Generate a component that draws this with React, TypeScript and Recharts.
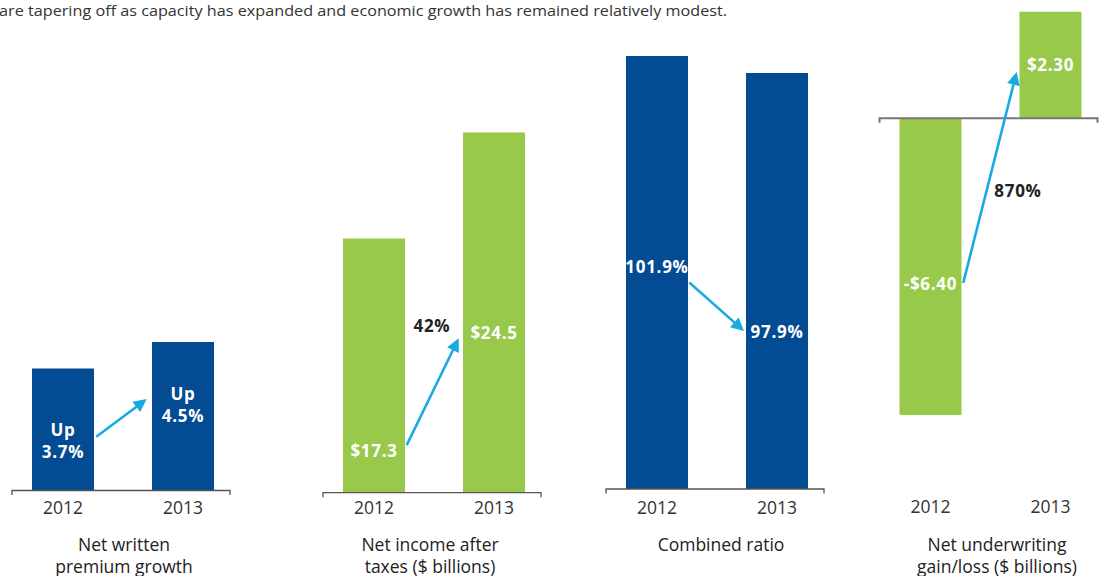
import React from 'react';
import { BarChart, Bar, XAxis, YAxis, ReferenceLine, ReferenceDot } from 'recharts';

// ---------- data ----------
const YEARS = ['2012', '2013'];
const PREMIUM_GROWTH = [3.7, 4.5]; // % up
const NET_INCOME = [17.3, 24.5]; // $ billions
const COMBINED_RATIO = [101.9, 97.9]; // %
const UNDERWRITING = [-6.4, 2.3]; // $ billions
const NET_INCOME_CHANGE = '42%';
const UNDERWRITING_CHANGE = '870%';

const TITLES = [
  ['Net written', 'premium growth'],
  ['Net income after', 'taxes ($ billions)'],
  ['Combined ratio'],
  ['Net underwriting', 'gain/loss ($ billions)'],
];
const INTRO = 'are tapering off as capacity has expanded and economic growth has remained relatively modest.';

// ---------- styles ----------
const BLUE = '#034B93';
const GREEN = '#98C94B';
const ARROW = '#1AAAE2';
const DARK = '#222222';
const FONT = '"Open Sans", "Noto Sans", sans-serif';
const X_DOMAIN: [number, number] = [-0.425, 1.3917];
const W = 1101;
const H = 576;

type Note = { x: number; y: number; lines: string[]; color: string };
type PanelCfg = {
  values: number[];
  color: string;
  domain: [number, number];
  margin: { top: number; right: number; bottom: number; left: number };
  yearShift: number;
  notes: Note[];
  arrow: [{ x: number; y: number }, { x: number; y: number }];
  axisColor: string;
  axisWidth: number;
};

const money1 = (v: number) => `$${v.toFixed(1)}`;
const money2 = (v: number) => (v < 0 ? `-$${Math.abs(v).toFixed(2)}` : `$${v.toFixed(2)}`);
const pct1 = (v: number) => `${v.toFixed(1)}%`;

const PANELS: PanelCfg[] = [
  {
    values: PREMIUM_GROWTH,
    color: BLUE,
    domain: [0, 5],
    margin: { top: 325.5, right: W - 230, bottom: H - 490.5 - 30, left: 12 },
    yearShift: 23,
    notes: [
      { x: 0, y: 1.65, lines: ['Up', pct1(PREMIUM_GROWTH[0])], color: '#fff' },
      { x: 1, y: 2.74, lines: ['Up', pct1(PREMIUM_GROWTH[1])], color: '#fff' },
    ],
    arrow: [{ x: 0.2775, y: 1.63 }, { x: 0.6975, y: 2.77 }],
    axisColor: '#555',
    axisWidth: 1.3,
  },
  {
    values: NET_INCOME,
    color: GREEN,
    domain: [0, 25],
    margin: { top: 125.2, right: W - 541, bottom: H - 492.7 - 30, left: 323 },
    yearShift: 21,
    notes: [
      { x: 0, y: 2.43, lines: [money1(NET_INCOME[0])], color: '#fff' },
      { x: 1, y: 10.46, lines: [money1(NET_INCOME[1])], color: '#fff' },
      { x: 0.483, y: 10.93, lines: [NET_INCOME_CHANGE], color: DARK },
    ],
    arrow: [{ x: 0.2725, y: 3.24 }, { x: 0.7058, y: 10.5 }],
    axisColor: '#555',
    axisWidth: 1.3,
  },
  {
    values: COMBINED_RATIO,
    color: BLUE,
    domain: [0, 105],
    margin: { top: 42.75, right: W - 824, bottom: H - 489 - 30, left: 606 },
    yearShift: 24.5,
    notes: [
      { x: 0, y: 50.8, lines: [pct1(COMBINED_RATIO[0])], color: '#fff' },
      { x: 1, y: 35.6, lines: [pct1(COMBINED_RATIO[1])], color: '#fff' },
    ],
    arrow: [{ x: 0.269, y: 48.6 }, { x: 0.725, y: 37.2 }],
    axisColor: '#555',
    axisWidth: 1.3,
  },
  {
    values: UNDERWRITING,
    color: GREEN,
    domain: [-8, 2.5],
    margin: { top: 2.4, right: W - 1097.5, bottom: H - 489.1 - 30, left: 879.5 },
    yearShift: 24,
    notes: [
      { x: 0, y: -3.7, lines: [money2(UNDERWRITING[0])], color: '#fff' },
      { x: 1, y: 1.02, lines: [money2(UNDERWRITING[1])], color: '#fff' },
      { x: 0.729, y: -1.7, lines: [UNDERWRITING_CHANGE], color: DARK },
    ],
    arrow: [{ x: 0.273, y: -3.55 }, { x: 0.718, y: 1.0 }],
    axisColor: '#777',
    axisWidth: 2,
  },
];

const TITLE_X = [124, 430, 721, 997];

// ---------- shapes ----------
const ArrowShape = (props: any) => {
  const { x1, y1, x2, y2 } = props;
  const dx = x2 - x1;
  const dy = y2 - y1;
  const len = Math.hypot(dx, dy) || 1;
  const ux = dx / len;
  const uy = dy / len;
  const hl = 13;
  const hw = 6.5;
  const bx = x2 - ux * hl;
  const by = y2 - uy * hl;
  const px = -uy;
  const py = ux;
  return (
    <g>
      <line x1={x1} y1={y1} x2={bx + ux * 2} y2={by + uy * 2} stroke={ARROW} strokeWidth={2.6} />
      <polygon
        points={`${x2},${y2} ${bx + px * hw},${by + py * hw} ${bx - px * hw},${by - py * hw}`}
        fill={ARROW}
      />
    </g>
  );
};

const makeBracket = (color: string, width: number) => (props: any) => {
  const { x1, y1, x2 } = props;
  return (
    <path
      d={`M${x1},${y1 + 4.5} V${y1} H${x2} V${y1 + 4.5}`}
      fill="none"
      stroke={color}
      strokeWidth={width}
    />
  );
};

const makeNote = (note: Note) => (props: any) => {
  const { cx, cy } = props;
  return (
    <text
      x={cx}
      y={cy}
      textAnchor="middle"
      fill={note.color}
      fontFamily={FONT}
      fontWeight={700}
      fontSize={17}
      letterSpacing={0.7}
    >
      {note.lines.map((l, i) => (
        <tspan key={i} x={cx} dy={i === 0 ? 0 : 22}>
          {l}
        </tspan>
      ))}
    </text>
  );
};

function Panel({ p }: { p: PanelCfg }) {
  const data = p.values.map((v, i) => ({ x: i, year: YEARS[i], value: v }));
  return (
    <div style={{ position: 'absolute', left: 0, top: 0, width: W, height: H }}>
      <BarChart width={W} height={H} data={data} margin={p.margin}>
        <XAxis
          type="number"
          dataKey="x"
          domain={X_DOMAIN}
          ticks={[0, 1]}
          allowDataOverflow
          interval={0}
          axisLine={false}
          tickLine={false}
          tickSize={0}
          tickMargin={0}
          height={30}
          tick={(tp: any) => (
            <text
              x={tp.x}
              y={tp.y + p.yearShift}
              textAnchor="middle"
              fill="#333"
              fontFamily={FONT}
              fontSize={17.5}
            >
              {YEARS[tp.payload.value]}
            </text>
          )}
        />
        <YAxis hide domain={p.domain} allowDataOverflow />
        <Bar dataKey="value" fill={p.color} barSize={62} isAnimationActive={false} />
        <ReferenceLine y={0} ifOverflow="visible" shape={makeBracket(p.axisColor, p.axisWidth)} />
        <ReferenceLine segment={p.arrow} ifOverflow="visible" shape={ArrowShape} />
        {p.notes.map((n, i) => (
          <ReferenceDot key={i} x={n.x} y={n.y} r={0} ifOverflow="visible" shape={makeNote(n)} />
        ))}
      </BarChart>
    </div>
  );
}

export default function App() {
  return (
    <div style={{ position: 'absolute', left: 0, top: 0, width: W, height: H, background: '#fff', overflow: 'hidden' }}>
      {PANELS.map((p, i) => (
        <Panel key={i} p={p} />
      ))}
      <svg width={W} height={H} style={{ position: 'absolute', left: 0, top: 0, pointerEvents: 'none' }}>
        <text x={-1} y={15.5} fontFamily={FONT} fontSize={14} fill="#333" textLength={728} lengthAdjust="spacingAndGlyphs">
          {INTRO}
        </text>
        {TITLES.map((lines, i) => (
          <text key={i} textAnchor="middle" fontFamily={FONT} fontSize={17.5} fill="#222">
            {lines.map((l, j) => (
              <tspan key={j} x={TITLE_X[i]} y={551 + j * 22}>
                {l}
              </tspan>
            ))}
          </text>
        ))}
      </svg>
    </div>
  );
}
